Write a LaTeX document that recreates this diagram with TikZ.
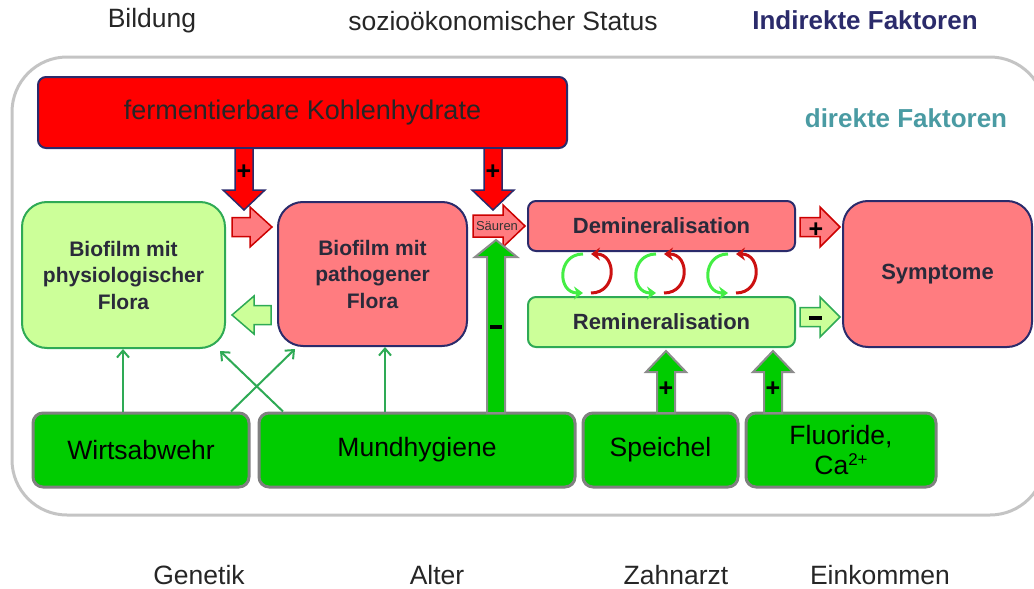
\documentclass[tikz,border=0pt]{standalone}
\usepackage{fontspec}
\setmainfont{Liberation Sans}
\usetikzlibrary{arrows.meta}
\definecolor{navy}{HTML}{2B2B6B}
\definecolor{pinkf}{HTML}{FF7C80}
\definecolor{lgreen}{HTML}{CCFF99}
\definecolor{bgreen}{HTML}{00CC00}
\definecolor{gborder}{HTML}{2EAA55}
\definecolor{tealc}{HTML}{4A9BA3}
\definecolor{darkred}{HTML}{CC0000}
\definecolor{cycgreen}{HTML}{44EE44}
\definecolor{cycred}{HTML}{CC1111}
\definecolor{frame}{HTML}{C4C4C4}
\definecolor{boxtext}{HTML}{2A2A3A}
\tikzset{
  pics/barrow/.style args={#1/#2/#3/#4}{code={
    \path[pic actions] (0,-#2) -- (#1-#4,-#2) -- (#1-#4,-#3) -- (#1,0) -- (#1-#4,#3) -- (#1-#4,#2) -- (0,#2) -- cycle;}},
  toplabel/.style={font=\fontsize{26.5}{30}\selectfont, text=black!85},
  redbox/.style={draw=navy, line width=2pt, fill=red, rounded corners=8pt},
  pinkbig/.style={draw=navy, line width=2pt, fill=pinkf, rounded corners=25pt, align=center, text=boxtext, font=\bfseries\fontsize{21}{26.5}\selectfont},
  greenbig/.style={draw=gborder, line width=2pt, fill=lgreen, rounded corners=25pt, align=center, text=boxtext, font=\bfseries\fontsize{21}{26.5}\selectfont},
  pinkbar/.style={draw=navy, line width=2pt, fill=pinkf, rounded corners=8pt, text=boxtext, font=\bfseries\fontsize{22}{26}\selectfont},
  greenbar/.style={draw=gborder, line width=2pt, fill=lgreen, rounded corners=8pt, text=boxtext, font=\bfseries\fontsize{22}{26}\selectfont},
  botbox/.style={draw=black!50, line width=3pt, fill=bgreen, rounded corners=10pt, align=center, text=black, font=\fontsize{26.5}{30}\selectfont},
  redarrow/.style={fill=red, draw=navy, line width=1.5pt},
  pinkarrow/.style={fill=pinkf, draw=darkred, line width=1.5pt},
  lgarrow/.style={fill=lgreen, draw=gborder, line width=1.5pt},
  garrow/.style={fill=bgreen, draw=black!45, line width=2pt},
  thin/.style={draw=gborder, line width=2pt, -{Straight Barb[length=7pt,width=12pt]}},
  cycg/.style={draw=cycgreen, line width=3pt, -{Stealth[length=9pt,width=13pt]}},
  cycr/.style={draw=cycred, line width=3pt, -{Stealth[length=9pt,width=13pt]}},
  sign/.style={font=\bfseries\fontsize{25}{25}\selectfont, text=black, inner sep=0pt}
}
\begin{document}
\begin{tikzpicture}[x=1pt,y=-1pt]
\useasboundingbox (0,0) rectangle (1034,589);
% outer frame
\draw[frame, line width=3pt, rounded corners=55pt] (12,57) rectangle (1045,515);
% indirect labels
\node[toplabel] (bild) at (152,21) {Bildung};
\node[toplabel] (sozio) at (503,21) {sozioökonomischer Status};
\node[font=\bfseries\fontsize{26}{30}\selectfont, text=navy] (indir) at (865,20) {Indirekte Faktoren};
\node[toplabel] (gen) at (199,575) {Genetik};
\node[toplabel] (alter) at (437,575) {Alter};
\node[toplabel] (zahn) at (676,575) {Zahnarzt};
\node[toplabel] (eink) at (880,575) {Einkommen};
\node[font=\bfseries\fontsize{26}{30}\selectfont, text=tealc] (dir) at (906,118) {direkte Faktoren};
% main boxes
\node[redbox, minimum width=529pt, minimum height=71pt, font=\fontsize{27}{30}\selectfont, text=black!85] (kh) at (302.5,112.5) {fermentierbare Kohlenhydrate};
\node[greenbig, minimum width=203pt, minimum height=146pt] (phys) at (123.5,275) {Biofilm mit\\physiologischer\\Flora};
\node[pinkbig, minimum width=189pt, minimum height=144pt] (path) at (372.5,274) {Biofilm mit\\pathogener\\Flora};
\node[pinkbar, minimum width=267pt, minimum height=50pt] (demin) at (661.5,226) {Demineralisation};
\node[greenbar, minimum width=267pt, minimum height=50pt] (remin) at (661.5,322) {Remineralisation};
\node[pinkbig, minimum width=189pt, minimum height=146pt, font=\bfseries\fontsize{22}{26}\selectfont] (sym) at (937.5,274) {Symptome};
% bottom boxes
\node[botbox, minimum width=216pt, minimum height=74pt] (wirt) at (141,450) {Wirtsabwehr};
\node[botbox, minimum width=316pt, minimum height=74pt] (mund) at (417,450) {Mundhygiene};
\node[botbox, minimum width=155pt, minimum height=74pt] (speich) at (660.5,450) {Speichel};
\node[botbox, minimum width=190pt, minimum height=74pt] (fluor) at (841,450) {Fluoride,\\Ca{\fontsize{17}{17}\selectfont\raisebox{9pt}{2+}}};
% block arrows from Kohlenhydrate
\coordinate (kh1) at (244,148);
\coordinate (kh2) at (493,148);
\pic[redarrow, rotate=-90] at (kh1) {barrow={62/9/21/20}};
\pic[redarrow, rotate=-90] at (kh2) {barrow={62/9/21/20}};
\node[sign] (p1) at (244,172) {+};
\node[sign] (p2) at (493,172) {+};
% between biofilms
\coordinate (pa) at (232,227);
\coordinate (pb) at (271,315);
\pic[pinkarrow] at (pa) {barrow={40/9.5/20/22}};
\pic[lgarrow, rotate=180] at (pb) {barrow={39/9.5/19/22}};
% Saeuren arrow
\coordinate (sa) at (473,226);
\pic[pinkarrow] at (sa) {barrow={52/11/21/22}};
\node[font=\fontsize{13}{13}\selectfont, text=black!80, inner sep=0pt] (saeu) at (497,226) {Säuren};
% big green up arrow from Mundhygiene
\coordinate (mu) at (496,413);
\pic[garrow, rotate=90] at (mu) {barrow={173/9/21/17}};
\draw[line width=4pt, black] (490,327) -- (502,327);
% Speichel and Fluoride arrows
\coordinate (sp) at (666,413);
\coordinate (fl) at (773,413);
\pic[garrow, rotate=90] at (sp) {barrow={62/9/20/21}};
\pic[garrow, rotate=90] at (fl) {barrow={62/9/20/21}};
\node[sign] (p3) at (666,389) {+};
\node[sign] (p4) at (773,389) {+};
% arrows to Symptome
\coordinate (da) at (800,227);
\coordinate (ra) at (800,317);
\pic[pinkarrow] at (da) {barrow={40/9.5/20/20}};
\pic[lgarrow] at (ra) {barrow={40/9.5/20/20}};
\node[sign] (p5) at (816,230) {+};
\draw[line width=3.5pt, black] (809,318) -- (822,318);
% thin arrows
\draw[thin] (123,0 |- wirt.north) -- (123,0 |- phys.south);
\draw[thin] (231,0 |- wirt.north) -- (295,349);
\draw[thin] (283,0 |- mund.north) -- (220,351);
\draw[thin] (385,0 |- mund.north) -- (385,0 |- path.south);
% cycle arrows
\foreach \c in {587,660,732}{
  \draw[cycg] (\c-4,254) .. controls (\c-30,254) and (\c-30,293) .. (\c-4,293);
  \draw[cycr] (\c+4,293) .. controls (\c+30,293) and (\c+30,254) .. (\c+4,254);
}
\end{tikzpicture}
\end{document}
